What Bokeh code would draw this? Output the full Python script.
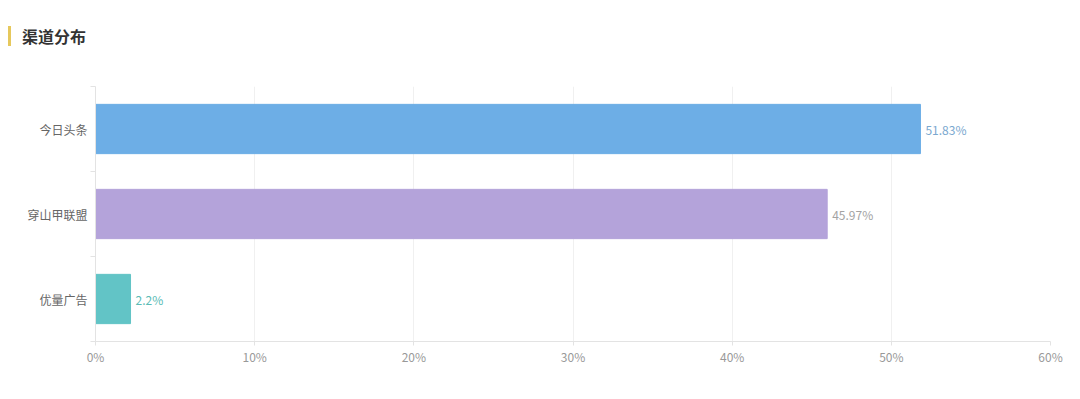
from bokeh.plotting import figure
from bokeh.models import ColumnDataSource, FixedTicker, PrintfTickFormatter, Div, Range1d
from bokeh.layouts import column
from bokeh.embed import file_html
from bokeh.resources import INLINE
from bokeh.core.properties import value

categories = ["今日头条", "穿山甲联盟", "优量广告"]
values = [51.83, 45.97, 2.2]
labels = ["51.83%", "45.97%", "2.2%"]
x_ticks = [0, 10, 20, 30, 40, 50, 60]

bar_colors = ["#6daee6", "#b4a3da", "#62c4c6"]
label_colors = ["#7aa8cf", "#a3a3a3", "#5bbcb6"]

FONT = "Noto Sans CJK SC"
n = len(categories)
ypos = [n - i - 0.5 for i in range(n)]

src = ColumnDataSource(dict(y=ypos, v=values, lab=labels, c=bar_colors, lc=label_colors))

title = Div(
    text=f'<div style="border-left:3px solid #e6c85c; padding-left:11px; font-family:\'{FONT}\'; '
         'font-weight:bold; font-size:16px; color:#333; line-height:20px; margin-top:26px; margin-left:8px;">渠道分布</div>',
    width=1064, height=68, margin=(0, 0, 0, 0),
)

p = figure(width=1064, height=323, output_backend="svg", toolbar_location=None,
           x_range=Range1d(0, 60), y_range=Range1d(0, n),
           min_border_left=95, min_border_right=14, min_border_top=18, min_border_bottom=50)
p.outline_line_color = None
p.background_fill_color = "white"

p.hbar(y="y", right="v", left=0, height=0.58, color="c", source=src)
p.text(x="v", y="y", text="lab", text_color="lc", x_offset=5, text_baseline="middle",
       text_font=value(FONT), text_font_size="12px", source=src)

# x axis
p.xaxis.ticker = FixedTicker(ticks=x_ticks)
p.xaxis.formatter = PrintfTickFormatter(format="%d%%")
p.xaxis.axis_line_color = "#e3e3e3"
p.xaxis.major_tick_line_color = "#e3e3e3"
p.xaxis.major_tick_out = 4
p.xaxis.major_tick_in = 0
p.xaxis.minor_tick_line_color = None
p.xaxis.major_label_text_color = "#999999"
p.xaxis.major_label_text_font = FONT
p.xaxis.major_label_text_font_size = "12px"
p.xaxis.major_label_standoff = 2

# y axis
p.yaxis.ticker = FixedTicker(ticks=ypos, minor_ticks=list(range(n + 1)))
p.yaxis.major_label_overrides = {y: c for y, c in zip(ypos, categories)}
p.yaxis.axis_line_color = "#e3e3e3"
p.yaxis.major_tick_line_color = None
p.yaxis.minor_tick_line_color = "#e3e3e3"
p.yaxis.minor_tick_out = 5
p.yaxis.minor_tick_in = 0
p.yaxis.major_label_text_color = "#666666"
p.yaxis.major_label_text_font = FONT
p.yaxis.major_label_text_font_size = "12px"
p.yaxis.major_label_standoff = 2

p.xgrid.ticker = FixedTicker(ticks=x_ticks)
p.xgrid.grid_line_color = "#f0f0f0"
p.ygrid.grid_line_color = None

layout = column(title, p, spacing=0)
open("out.html", "w").write(file_html(layout, INLINE))
